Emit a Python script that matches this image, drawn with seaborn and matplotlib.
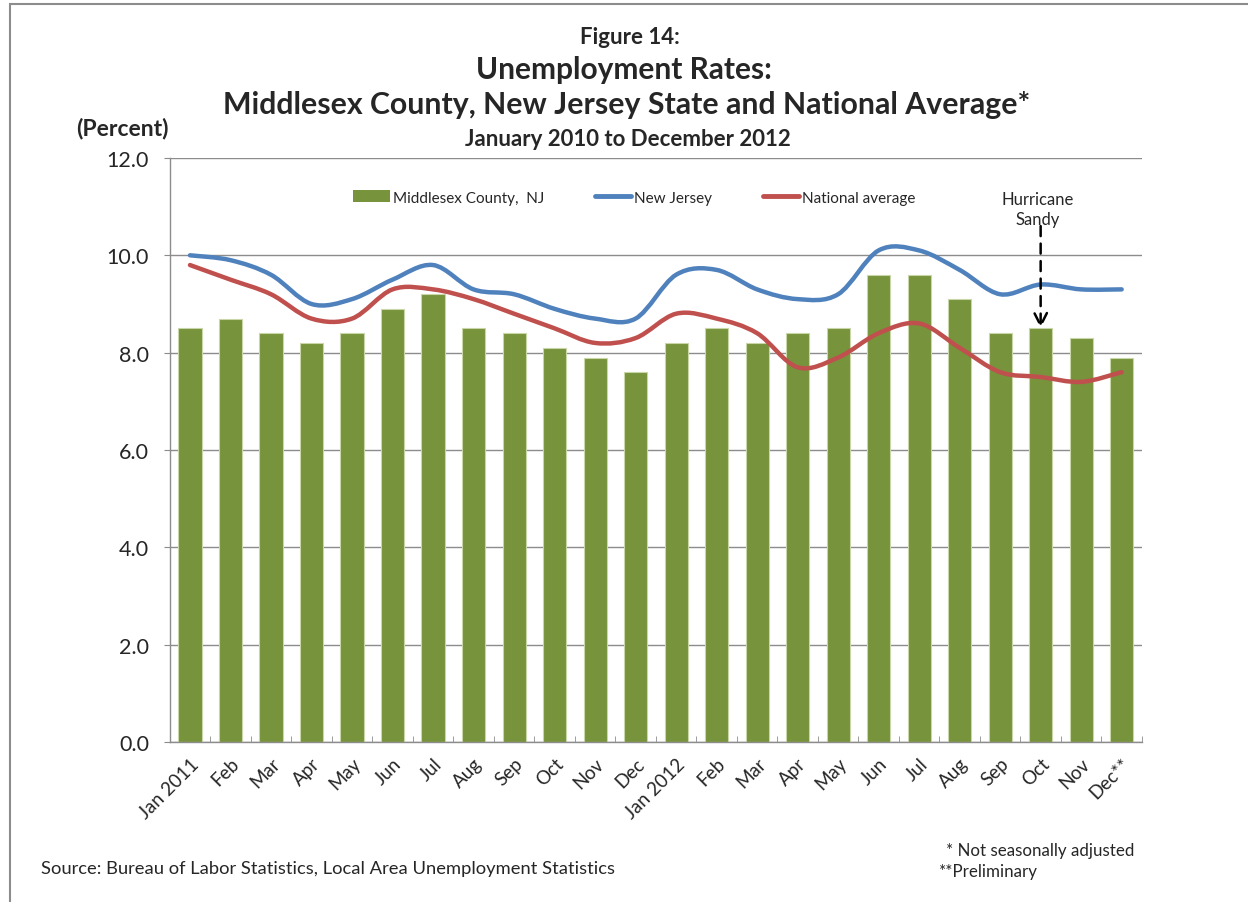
import numpy as np
import pandas as pd
import seaborn as sns
from matplotlib import pyplot as plt
from matplotlib.path import Path
from matplotlib.patches import PathPatch, Patch, Rectangle
from matplotlib.lines import Line2D

months = ['Jan 2011', 'Feb', 'Mar', 'Apr', 'May', 'Jun', 'Jul', 'Aug', 'Sep', 'Oct', 'Nov', 'Dec',
          'Jan 2012', 'Feb ', 'Mar ', 'Apr ', 'May ', 'Jun ', 'Jul ', 'Aug ', 'Sep ', 'Oct ', 'Nov ', 'Dec**']
middlesex = [8.5, 8.7, 8.4, 8.2, 8.4, 8.9, 9.2, 8.5, 8.4, 8.1, 7.9, 7.6,
             8.2, 8.5, 8.2, 8.4, 8.5, 9.6, 9.6, 9.1, 8.4, 8.5, 8.3, 7.9]
new_jersey = [10.0, 9.9, 9.6, 9.0, 9.1, 9.5, 9.8, 9.3, 9.2, 8.9, 8.7, 8.7,
              9.6, 9.7, 9.3, 9.1, 9.2, 10.1, 10.1, 9.7, 9.2, 9.4, 9.3, 9.3]
national = [9.8, 9.5, 9.2, 8.7, 8.7, 9.3, 9.3, 9.1, 8.8, 8.5, 8.2, 8.3,
            8.8, 8.7, 8.4, 7.7, 7.9, 8.4, 8.6, 8.1, 7.6, 7.5, 7.4, 7.6]

GREEN = '#77933C'
BLUE = '#4F81BD'
RED = '#C0504D'
GRID = '#8c8c8c'

sns.set_style("white")
plt.rcParams['font.family'] = ['Lato', 'DejaVu Sans']

frame = pd.DataFrame({'month': months, 'middlesex': middlesex})

fig = plt.figure(figsize=(12.48, 9.03), dpi=100)
ax = fig.add_axes([0.136, 0.177, 0.779, 0.647])

sns.barplot(data=frame, x='month', y='middlesex', order=months, color=GREEN,
            saturation=1, width=0.57, edgecolor='#c9d7a8', linewidth=0.8, ax=ax, zorder=2)


def smooth_path(values):
    # excel style smoothed line: catmull-rom segments as cubic beziers
    pts = np.column_stack([np.arange(len(values)), values]).astype(float)
    verts = [pts[0]]
    codes = [Path.MOVETO]
    n = len(pts)
    for i in range(n - 1):
        p0 = pts[max(i - 1, 0)]
        p1 = pts[i]
        p2 = pts[i + 1]
        p3 = pts[min(i + 2, n - 1)]
        verts += [p1 + (p2 - p0) / 6, p2 - (p3 - p1) / 6, p2]
        codes += [Path.CURVE4] * 3
    return Path(verts, codes)


for vals, col in [(new_jersey, BLUE), (national, RED)]:
    ax.add_patch(PathPatch(smooth_path(vals), facecolor='none', edgecolor=col,
                           linewidth=3.2, capstyle='round', joinstyle='round', zorder=3))

ax.set_xlim(-0.5, len(months) - 0.5)
ax.set_ylim(0, 12)
ax.set_yticks(np.arange(0, 12.1, 2))
ax.set_yticklabels([f"{v:.1f}" for v in np.arange(0, 12.1, 2)], fontsize=15.5)
ax.yaxis.grid(True, color=GRID, linewidth=1)
ax.xaxis.grid(False)
ax.set_axisbelow(True)
ax.set_xlabel('')
ax.set_ylabel('')

ax.set_xticks(range(len(months)))
ax.set_xticklabels([m.strip() for m in months], rotation=45, ha='right',
                   rotation_mode='anchor', fontsize=13.5)
ax.tick_params(axis='x', length=0, pad=9)
ax.set_xticks(np.arange(-0.5, len(months), 1), minor=True)
ax.tick_params(axis='x', which='minor', length=4.5, color=GRID, direction='in', bottom=True)
ax.tick_params(axis='y', length=4, color=GRID, direction='out', left=True, pad=11)

sns.despine(ax=ax, top=True, right=True)
for side in ['left', 'bottom']:
    ax.spines[side].set_color(GRID)
    ax.spines[side].set_linewidth(1)

handles = [Patch(facecolor=GREEN, edgecolor='none'),
           Line2D([], [], color=BLUE, linewidth=3.5, solid_capstyle='round'),
           Line2D([], [], color=RED, linewidth=3.5, solid_capstyle='round')]
fig.legend(handles, ['Middlesex County,  NJ', 'New Jersey', 'National average'],
           loc='upper left', bbox_to_anchor=(0.283, 0.788), ncol=3, frameon=False,
           fontsize=11, handlelength=2.4, handleheight=0.8, handletextpad=0.2,
           columnspacing=3.3, borderpad=0, borderaxespad=0)

# hurricane sandy note
sandy = months.index('Oct ')
ax.text(sandy - 0.08, 11.33, 'Hurricane\nSandy', ha='center', va='top', fontsize=12, linespacing=1.35)
ax.annotate('', xy=(sandy, middlesex[sandy]), xytext=(sandy, 10.6),
            arrowprops=dict(arrowstyle='->,head_length=0.9,head_width=0.45', color='black',
                            linestyle=(0, (4, 3)), linewidth=1.8, shrinkA=0, shrinkB=0))

fig.text(0.505, 0.959, 'Figure 14:', ha='center', va='center', fontsize=16, fontweight='bold')
fig.text(0.5, 0.922, 'Unemployment Rates:', ha='center', va='center', fontsize=21.5, fontweight='bold')
fig.text(0.502, 0.884, 'Middlesex County, New Jersey State and National Average*', ha='center',
         va='center', fontsize=21.8, fontweight='bold')
fig.text(0.503, 0.845, 'January 2010 to December 2012', ha='center', va='center', fontsize=16,
         fontweight='bold')
fig.text(0.098, 0.858, '(Percent)', ha='center', va='center', fontsize=16.5, fontweight='bold')

fig.text(0.033, 0.038, 'Source: Bureau of Labor Statistics, Local Area Unemployment Statistics',
         ha='left', va='center', fontsize=13.2)
fig.text(0.758, 0.058, '* Not seasonally adjusted', ha='left', va='center', fontsize=12.2)
fig.text(0.752, 0.034, '**Preliminary', ha='left', va='center', fontsize=12.2)

fig.add_artist(Rectangle((0.008, -0.01), 1.2, 1.005, transform=fig.transFigure, fill=False,
                         edgecolor=GRID, linewidth=1.5))

plt.savefig('out.png', dpi=100)
